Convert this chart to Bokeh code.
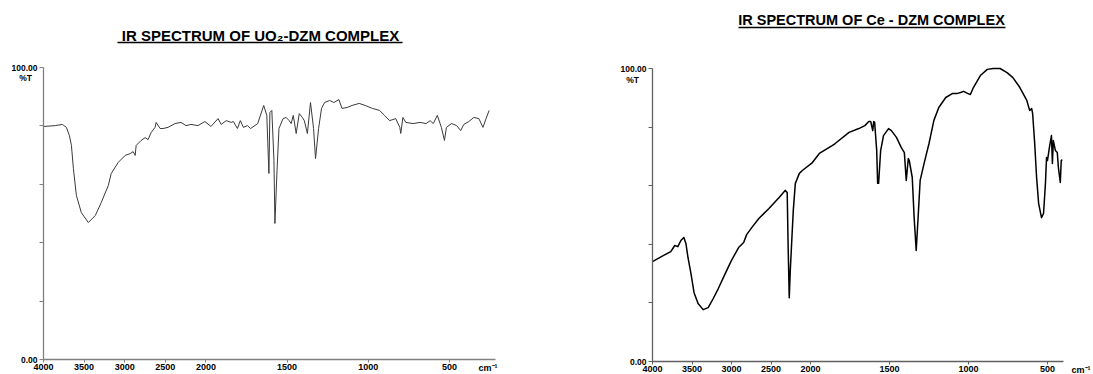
from bokeh.plotting import figure
from bokeh.models import LinearAxis, FixedTicker, Range1d
from bokeh.layouts import row
from bokeh.embed import file_html
from bokeh.resources import INLINE
from bokeh.core.properties import value

# ---------------- data ----------------
uo2_wavenumber = [4000, 3853, 3767, 3718, 3681, 3656, 3632, 3595, 3534, 3448,
                  3362, 3288, 3202, 3166, 3080, 2994, 2933, 2896, 2871, 2859,
                  2798, 2748, 2712, 2675, 2626, 2613, 2564, 2528, 2466, 2380,
                  2307, 2245, 2184, 2098, 2012, 1969, 1925, 1906, 1875, 1844,
                  1831, 1806, 1788, 1769, 1744, 1725, 1681, 1644, 1625, 1612,
                  1606, 1594, 1581, 1575, 1562, 1550, 1525, 1506, 1487, 1475,
                  1462, 1444, 1425, 1406, 1394, 1375, 1356, 1337, 1325, 1306,
                  1288, 1269, 1238, 1212, 1181, 1162, 1131, 1100, 1056, 1019,
                  975, 931, 900, 869, 831, 806, 800, 787, 769, 725,
                  681, 644, 619, 600, 575, 550, 531, 519, 487, 456,
                  431, 412, 381, 350, 319, 294, 275, 256]
uo2_transmittance = [79.8, 80.1, 80.5, 79.5, 76.7, 73.3, 65.4, 56.2, 50.3, 46.9,
                     49.3, 53.8, 59.6, 63.7, 67.5, 69.9, 70.5, 71.2, 69.9, 73.3,
                     75.0, 76.0, 75.3, 77.7, 79.5, 81.2, 79.1, 79.1, 79.5, 80.8,
                     81.2, 80.1, 80.5, 80.1, 81.5, 79.8, 82.5, 80.5, 81.8, 81.2,
                     81.5, 79.1, 81.8, 79.5, 80.1, 79.1, 80.8, 87.0, 83.6, 63.7,
                     84.6, 85.3, 68.2, 46.6, 64.7, 79.1, 82.5, 82.9, 81.8, 80.8,
                     83.6, 77.4, 84.2, 82.9, 81.8, 77.4, 88.0, 79.1, 68.8, 79.1,
                     86.0, 88.0, 88.7, 88.0, 89.0, 86.0, 86.3, 87.0, 87.7, 87.0,
                     86.0, 85.3, 83.6, 81.8, 82.5, 79.5, 77.4, 82.9, 81.2, 80.8,
                     81.2, 80.8, 81.8, 80.8, 83.6, 79.5, 75.0, 79.5, 80.8, 80.1,
                     78.4, 80.5, 81.5, 82.9, 82.5, 79.5, 82.5, 85.3]

ce_wavenumber = [4000, 3859, 3769, 3718, 3679, 3641, 3603, 3577, 3551, 3513,
                 3474, 3423, 3359, 3295, 3231, 3167, 3090, 3000, 2910, 2846,
                 2808, 2744, 2654, 2526, 2397, 2321, 2295, 2282, 2269, 2256,
                 2218, 2192, 2141, 2103, 1988, 1944, 1863, 1844, 1756, 1694,
                 1656, 1631, 1619, 1606, 1600, 1594, 1581, 1575, 1569, 1556,
                 1538, 1506, 1488, 1456, 1425, 1406, 1394, 1381, 1375, 1356,
                 1344, 1331, 1319, 1306, 1281, 1250, 1219, 1188, 1144, 1100,
                 1069, 1050, 1031, 1006, 988, 969, 925, 881, 844, 800,
                 756, 719, 675, 631, 613, 600, 594, 581, 569, 556,
                 538, 525, 513, 506, 500, 488, 475, 469, 463, 450,
                 438, 431, 419, 413, 406]
ce_transmittance = [34.1, 36.2, 37.5, 39.6, 39.2, 41.3, 42.3, 40.3, 35.5, 30.0,
                    23.5, 19.8, 17.7, 18.4, 21.5, 24.9, 29.4, 34.5, 38.9, 40.6,
                    43.3, 45.7, 48.8, 52.2, 56.0, 58.4, 57.7, 37.9, 21.8, 31.1,
                    51.5, 60.8, 64.2, 65.2, 67.9, 71.0, 73.7, 74.4, 78.2, 79.5,
                    80.5, 81.9, 81.9, 78.8, 81.9, 81.6, 72.0, 60.8, 60.8, 72.0,
                    77.1, 79.5, 78.8, 76.5, 73.0, 71.3, 61.8, 69.3, 68.6, 62.8,
                    49.1, 37.9, 49.1, 61.8, 67.6, 74.4, 82.3, 86.7, 90.1, 91.5,
                    91.5, 91.8, 92.2, 91.5, 91.1, 93.5, 97.6, 99.7, 100.0, 100.0,
                    98.6, 96.9, 93.5, 89.1, 85.7, 86.3, 84.6, 74.4, 62.8, 53.9,
                    49.1, 50.5, 60.8, 69.6, 68.6, 73.0, 77.1, 67.6, 75.4, 72.0,
                    71.3, 66.2, 61.1, 68.6, 68.9]

tick_wavenumbers = [4000, 3500, 3000, 2500, 2000, 1500, 1000, 500]
y_ticks = [0, 20, 40, 60, 80, 100]
y_tick_labels = {0: "0.00", 100: "100.00"}
titles = ["IR SPECTRUM OF UO\u2082-DZM COMPLEX", "IR SPECTRUM OF Ce - DZM COMPLEX"]
y_unit = "%T"
x_unit = "cm\u207b\u00b9"

FONT = value("Liberation Sans")
FIG_H = 374


def to_axis(wn):
    # spectrometer chart: 2x expanded scale below 2000 cm-1
    return 4000 - wn if wn >= 2000 else 2000 + 2 * (2000 - wn)


def panel(wn, tr, title, fig_left, width, axis_abs, px_per_u, end_abs,
          zero_abs, top_abs, title_cx, title_y, ul_x0, ul_x1, ul_y,
          pct_x, pct_y, cm_x, line_color, line_width, title_size, axis_color):
    ppp = (zero_abs - top_abs) / 100.0

    def xu(abs_x):
        return (abs_x - axis_abs) / px_per_u

    def yv(abs_y):
        return (zero_abs - abs_y) / ppp

    p = figure(width=width, height=FIG_H, output_backend="svg",
               toolbar_location=None, x_axis_type=None, y_axis_type=None,
               x_range=Range1d(xu(fig_left), xu(fig_left + width)),
               y_range=Range1d(yv(FIG_H), yv(0)),
               min_border=0, min_border_left=0, min_border_right=0,
               min_border_top=0, min_border_bottom=0)
    p.outline_line_color = None
    p.background_fill_color = "white"
    p.border_fill_color = "white"

    u_end = xu(end_abs)
    xticks = [to_axis(t) for t in tick_wavenumbers]

    xa = LinearAxis(fixed_location=0, bounds=(0, u_end),
                    ticker=FixedTicker(ticks=xticks, minor_ticks=[]),
                    major_label_overrides={to_axis(t): str(t) for t in tick_wavenumbers})
    xa.axis_line_color = axis_color
    xa.axis_line_width = 1.3
    xa.major_tick_line_color = axis_color
    xa.major_tick_in = 0
    xa.major_tick_out = 3
    xa.minor_tick_in = 0
    xa.minor_tick_out = 0
    xa.major_label_standoff = 1
    xa.major_label_text_font = "Liberation Sans"
    xa.major_label_text_font_style = "bold"
    xa.major_label_text_font_size = "9px"
    xa.major_label_text_color = "black"
    p.add_layout(xa, "below")

    ya = LinearAxis(fixed_location=0, bounds=(0, 100),
                    ticker=FixedTicker(ticks=y_ticks, minor_ticks=[]),
                    major_label_overrides={t: y_tick_labels.get(t, "") for t in y_ticks})
    ya.axis_line_color = axis_color
    ya.axis_line_width = 1.3
    ya.major_tick_line_color = axis_color
    ya.major_tick_in = 0
    ya.major_tick_out = 4
    ya.minor_tick_in = 0
    ya.minor_tick_out = 0
    ya.major_label_standoff = 2
    ya.major_label_text_font = "Liberation Sans"
    ya.major_label_text_font_style = "bold"
    ya.major_label_text_font_size = "8.5px"
    ya.major_label_text_color = "black"
    p.add_layout(ya, "left")

    p.line([to_axis(w) for w in wn], tr, line_color=line_color,
           line_width=line_width, line_join="round")

    # title with underline
    p.text(x=[xu(title_cx)], y=[yv(title_y)], text=[title],
           text_align="center", text_baseline="middle", text_font=FONT,
           text_font_style="bold", text_font_size=title_size, text_color="black")
    p.segment(x0=[xu(ul_x0)], y0=[yv(ul_y)], x1=[xu(ul_x1)], y1=[yv(ul_y)],
              line_color="black", line_width=1.4)

    p.text(x=[xu(pct_x)], y=[yv(pct_y)], text=[y_unit], text_align="center",
           text_baseline="middle", text_font=FONT, text_font_style="bold",
           text_font_size="8.5px", text_color="black")
    p.text(x=[xu(cm_x)], y=[yv(zero_abs + 3)], text=[x_unit], text_align="left",
           text_baseline="top", text_font=FONT, text_font_style="bold",
           text_font_size="9px", text_color="black")
    return p


left = panel(uo2_wavenumber, uo2_transmittance, titles[0],
             fig_left=0, width=560, axis_abs=43, px_per_u=0.0812, end_abs=495,
             zero_abs=359, top_abs=67,
             title_cx=260, title_y=35, ul_x0=117, ul_x1=402, ul_y=42,
             pct_x=25, pct_y=77, cm_x=478,
             line_color="#3a3a3a", line_width=1.0, title_size="15px",
             axis_color="#808080")
right = panel(ce_wavenumber, ce_transmittance, titles[1],
              fig_left=560, width=533, axis_abs=652, px_per_u=0.079, end_abs=1063,
              zero_abs=361, top_abs=68,
              title_cx=871, title_y=19, ul_x0=738, ul_x1=1005, ul_y=27,
              pct_x=632, pct_y=79, cm_x=1071,
              line_color="black", line_width=1.5, title_size="14.5px",
              axis_color="#606060")

layout = row(left, right)
open("out.html", "w").write(file_html(layout, INLINE))
